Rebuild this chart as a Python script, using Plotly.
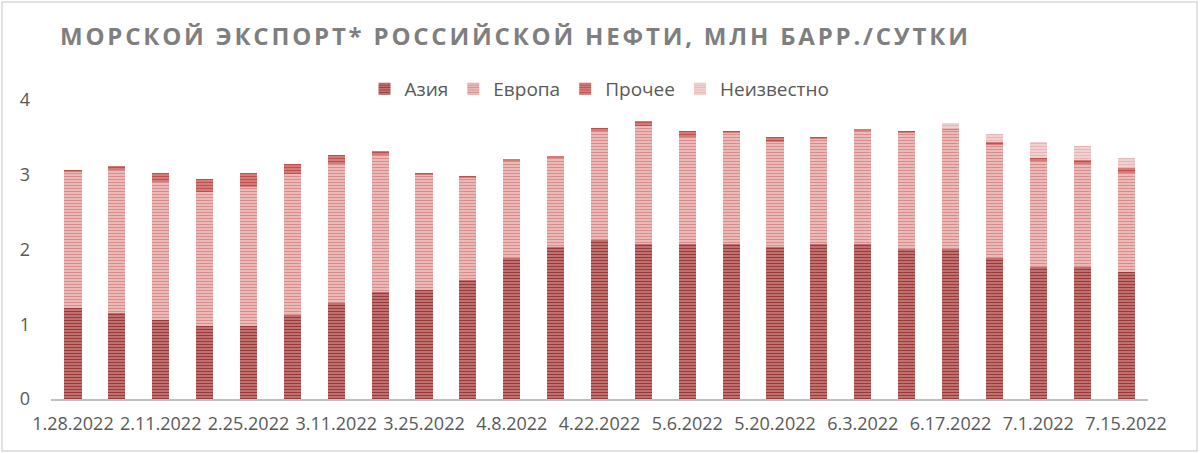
import plotly.graph_objects as go

# недели (пятница), подписи как в исходнике: М.Д.ГГГГ
dates = [
    "1.28.2022", "2.4.2022", "2.11.2022", "2.18.2022", "2.25.2022",
    "3.4.2022", "3.11.2022", "3.18.2022", "3.25.2022", "4.1.2022",
    "4.8.2022", "4.15.2022", "4.22.2022", "4.29.2022", "5.6.2022",
    "5.13.2022", "5.20.2022", "5.27.2022", "6.3.2022", "6.10.2022",
    "6.17.2022", "6.24.2022", "7.1.2022", "7.8.2022", "7.15.2022",
]

# млн барр./сутки
asia = [1.22, 1.15, 1.06, 0.97, 0.98, 1.13, 1.28, 1.43, 1.46, 1.59,
        1.89, 2.04, 2.13, 2.08, 2.08, 2.08, 2.03, 2.08, 2.08, 2.01,
        2.01, 1.88, 1.77, 1.77, 1.70]
europe = [1.83, 1.92, 1.84, 1.80, 1.86, 1.88, 1.87, 1.84, 1.54, 1.36,
          1.30, 1.19, 1.46, 1.57, 1.42, 1.49, 1.41, 1.40, 1.51, 1.56,
          1.59, 1.52, 1.41, 1.38, 1.33]
other = [0.01, 0.045, 0.13, 0.17, 0.19, 0.13, 0.11, 0.05, 0.03, 0.03,
         0.01, 0.01, 0.03, 0.07, 0.08, 0.01, 0.06, 0.03, 0.01, 0.01,
         0.01, 0.04, 0.04, 0.05, 0.06]
unknown = [0, 0, 0, 0, 0, 0, 0, 0, 0, 0,
           0, 0, 0, 0, 0, 0, 0, 0, 0, 0,
           0.08, 0.10, 0.22, 0.18, 0.13]

y_ticks = [0, 1, 2, 3, 4]

series = [
    ("Азия", asia, "#9a3a39", "#cf8b8a"),
    ("Европа", europe, "#d88d8c", "#f3cfcf"),
    ("Прочее", other, "#c0504d", "#df8f8d"),
    ("Неизвестно", unknown, "#e6b6b6", "#f5dddd"),
]

fig = go.Figure()
for name, vals, fg, bg in series:
    fig.add_trace(go.Bar(
        x=dates, y=vals, name=name,
        marker=dict(
            color=fg,
            line_width=0,
            pattern=dict(shape="-", fgcolor=fg, bgcolor=bg,
                         size=3, solidity=0.55, fillmode="replace"),
        ),
    ))

gray = "#595959"
fig.update_layout(
    width=1200, height=453,
    barmode="stack", bargap=0.61,
    plot_bgcolor="white", paper_bgcolor="white",
    margin=dict(l=51, r=52, t=100, b=54),
    font=dict(family="Open Sans, Arial", color=gray, size=18),
    title=dict(
        text='<span style="letter-spacing:2.8px">МОРСКОЙ ЭКСПОРТ* РОССИЙСКОЙ НЕФТИ, МЛН БАРР./СУТКИ</span>',
        xref="container", yref="container",
        x=60 / 1200, xanchor="left",
        y=1 - 37 / 453, yanchor="middle",
        font=dict(family="Open Sans", size=24, color="#7f7f7f", weight="bold"),
    ),
    legend=dict(
        orientation="h", traceorder="normal",
        x=0.5, xanchor="center", y=1.037, yanchor="middle",
        font=dict(size=19, color=gray),
        itemwidth=30,
    ),
    showlegend=True,
)

fig.update_xaxes(
    type="category",
    tickmode="array", tickvals=dates[::2], ticktext=dates[::2],
    showgrid=False, ticks="",
    showline=True, linecolor="#bfbfbf", linewidth=2,
    ticklabelstandoff=7,
    tickfont=dict(size=18, color=gray),
    automargin=False,
)
fig.update_yaxes(
    range=[0, 4], tickvals=y_ticks,
    showgrid=False, zeroline=False, showline=False, ticks="",
    ticklabelstandoff=20,
    tickfont=dict(size=18, color=gray),
    automargin=False,
)

# рамка области диаграммы (как в Excel)
fig.add_shape(
    type="rect", xref="paper", yref="paper",
    x0=(2 - 51) / 1097, x1=(1197 - 51) / 1097,
    y0=(399 - 451) / 299, y1=(399 - 2) / 299,
    line=dict(color="#d9d9d9", width=1.5),
)

# без отступа body, чтобы график начинался с (0,0)
fig.write_html(
    "out.html",
    config={"displayModeBar": False},
    post_script="document.body.style.margin='0';",
)
